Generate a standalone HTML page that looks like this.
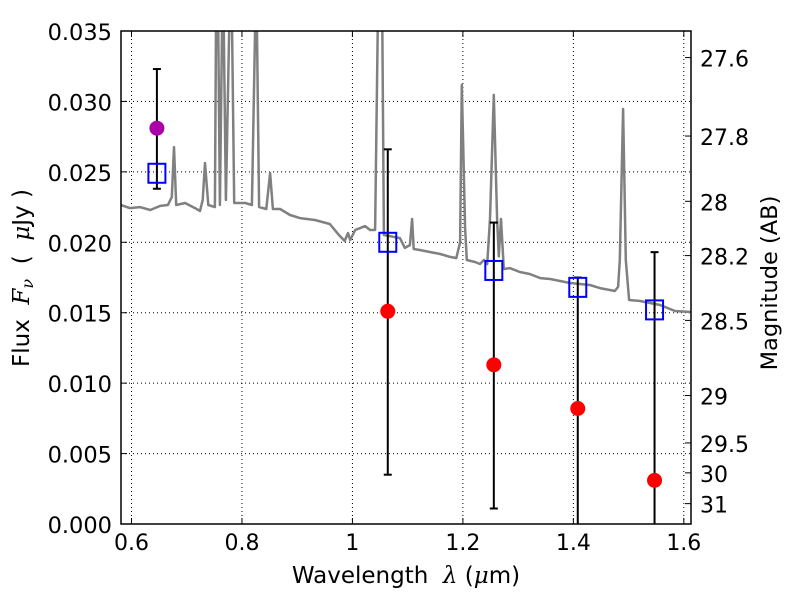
<!DOCTYPE html>
<html><head><meta charset="utf-8"><style>body{margin:0;background:#fff}svg{display:block;font-family:"DejaVu Sans","Liberation Sans",sans-serif}</style></head>
<body>
<svg id="c" width="800" height="600"></svg>
<script>
const specW=[0.581,0.597,0.615,0.634,0.652,0.666,0.673,0.677,0.681,0.697,0.715,0.724,0.729,0.733,0.739,0.751,0.753,0.757,0.760,0.764,0.767,0.771,0.777,0.782,0.786,0.806,0.818,0.824,0.827,0.831,0.844,0.851,0.856,0.869,0.887,0.905,0.932,0.959,0.977,0.986,0.992,0.996,1.005,1.023,1.032,1.041,1.046,1.054,1.057,1.077,1.086,1.095,1.104,1.108,1.111,1.122,1.140,1.159,1.177,1.188,1.195,1.198,1.204,1.207,1.222,1.231,1.238,1.244,1.249,1.256,1.262,1.265,1.269,1.274,1.285,1.303,1.321,1.340,1.358,1.376,1.394,1.412,1.430,1.448,1.466,1.475,1.481,1.484,1.490,1.495,1.501,1.521,1.539,1.557,1.584,1.613];
const specF=[0.02265,0.02243,0.02250,0.02229,0.02258,0.02265,0.02321,0.02676,0.02265,0.02279,0.02243,0.02222,0.02300,0.02563,0.02265,0.02250,0.0355,0.0355,0.02265,0.0355,0.0355,0.02300,0.0355,0.0355,0.02279,0.02279,0.02265,0.0355,0.0355,0.02250,0.02236,0.02492,0.02236,0.02236,0.02194,0.02172,0.02158,0.02130,0.02045,0.02009,0.02066,0.02016,0.02087,0.02115,0.02087,0.02087,0.0355,0.0355,0.02052,0.02037,0.02030,0.01960,0.01980,0.02165,0.01952,0.01945,0.01931,0.01917,0.01896,0.01888,0.02000,0.03117,0.02100,0.01874,0.01860,0.01846,0.01874,0.01846,0.02165,0.03046,0.02165,0.01900,0.02165,0.01810,0.01817,0.01789,0.01775,0.01746,0.01739,0.01725,0.01711,0.01704,0.01697,0.01675,0.01661,0.01654,0.01683,0.01874,0.02946,0.01874,0.01590,0.01583,0.01569,0.01555,0.01512,0.01505];
const ptW=[0.646,1.064,1.256,1.408,1.547];
const ptF=[0.0249,0.0200,0.0180,0.0168,0.0152];
const errHi=[0.0323,0.0266,0.0214,0.0175,0.0193];
const errLo=[0.0238,0.0035,0.0011,-0.002,-0.002];
const obsW=[0.646,1.064,1.256,1.408,1.547];
const obsF=[0.0281,0.0151,0.0113,0.0082,0.0031];
const obsColor=["#aa00aa","#ff0000","#ff0000","#ff0000","#ff0000"];
const xTicks=[0.6,0.8,1,1.2,1.4,1.6];
const xTickLabels=["0.6","0.8","1","1.2","1.4","1.6"];
const yTicks=[0,0.005,0.01,0.015,0.02,0.025,0.03,0.035];
const yTickLabels=["0.000","0.005","0.010","0.015","0.020","0.025","0.030","0.035"];
const magTicks=[27.6,27.8,28,28.2,28.5,29,29.5,30,31];
const magLabels=["27.6","27.8","28","28.2","28.5","29","29.5","30","31"];

const L=121,R=691,T=31,B=524, X0=0.581,X1=1.613, Y0=0,Y1=0.035;
const sx=w=>L+(w-X0)/(X1-X0)*(R-L);
const sy=f=>B-(f-Y0)/(Y1-Y0)*(B-T);
const NS="http://www.w3.org/2000/svg";
const svg=document.getElementById('c');
function mk(tag,attrs,parent){const e=document.createElementNS(NS,tag);for(const k in attrs)e.setAttribute(k,attrs[k]);(parent||svg).appendChild(e);return e;}
const defs=mk('defs',{});const cp=mk('clipPath',{id:'clip'},defs);mk('rect',{x:L,y:T,width:R-L,height:B-T},cp);
xTicks.forEach((t,i)=>{const x=sx(t);
 const g=mk('line',{x1:x,x2:x,y1:T,y2:B,stroke:'#000','stroke-width':1,'stroke-dasharray':'1,3'});
 
 mk('line',{x1:x,x2:x,y1:B,y2:B-6,stroke:'#000'});mk('line',{x1:x,x2:x,y1:T,y2:T+6,stroke:'#000'});
 const tx=mk('text',{x:x,y:B+26,'text-anchor':'middle','font-size':22});tx.textContent=xTickLabels[i];
 });
yTicks.forEach((t,i)=>{const y=sy(t);
 const g=mk('line',{x1:L,x2:R,y1:y,y2:y,stroke:'#000','stroke-width':1,'stroke-dasharray':'1,3'});
 
 mk('line',{x1:L,x2:L+6,y1:y,y2:y,stroke:'#000'});
 const tx=mk('text',{x:L-9,y:y+9,'text-anchor':'end','font-size':22.5});tx.textContent=yTickLabels[i];
 });
magTicks.forEach((m,i)=>{const f=Math.pow(10,(23.9-m)/2.5);const y=sy(f);
 mk('line',{x1:R,x2:R-6,y1:y,y2:y,stroke:'#000'});
 const tx=mk('text',{x:R+9,y:y+9,'font-size':22});tx.textContent=magLabels[i];
 });
const pts=specW.map((w,i)=>sx(w).toFixed(1)+','+sy(specF[i]).toFixed(1)).join(' ');
const sp=mk('polyline',{points:pts,fill:'none',stroke:'#808080','stroke-width':2.5,'stroke-linejoin':'round','clip-path':'url(#clip)'});

ptW.forEach((w,i)=>{const x=sx(w);
 const eb=mk('line',{x1:x,x2:x,y1:sy(errHi[i]),y2:sy(errLo[i]),stroke:'#000','stroke-width':2,'clip-path':'url(#clip)'});
 
 mk('line',{x1:x-4,x2:x+4,y1:sy(errHi[i]),y2:sy(errHi[i]),stroke:'#000','stroke-width':2});
 if(errLo[i]>0)mk('line',{x1:x-4,x2:x+4,y1:sy(errLo[i]),y2:sy(errLo[i]),stroke:'#000','stroke-width':2});
 const y=sy(ptF[i]);
 const r=mk('rect',{x:x-8.5,y:y-9.5,width:17,height:19,fill:'none',stroke:'#0000ff','stroke-width':2});
 });
obsW.forEach((w,i)=>{const c=mk('circle',{cx:sx(w),cy:sy(obsF[i]),r:7.5,fill:obsColor[i]});
 });
const fr=mk('rect',{x:L,y:T,width:R-L,height:B-T,fill:'none',stroke:'#000','stroke-width':1.5});

</script>
<svg style="position:absolute;left:0;top:0" width="800" height="600">
<text x="406" y="583" text-anchor="middle" font-size="23" font-family="DejaVu Sans, sans-serif">Wavelength&#160;&#160;<tspan font-style="italic" font-family="DejaVu Serif, serif">λ</tspan> (<tspan font-style="italic" font-family="DejaVu Serif, serif">μ</tspan>m)</text>
<text transform="translate(29,278) rotate(-90)" text-anchor="middle" font-size="23" font-family="DejaVu Sans, sans-serif">Flux&#160;&#160;<tspan font-style="italic" font-family="DejaVu Serif, serif">F</tspan><tspan font-style="italic" font-size="16" dy="4" font-family="DejaVu Serif, serif">ν</tspan><tspan dy="-4">&#160;&#160;(&#160;&#160;</tspan><tspan font-style="italic" font-family="DejaVu Serif, serif">μ</tspan>Jy )</text>
<text transform="translate(777,283) rotate(-90)" text-anchor="middle" font-size="22.5" font-family="DejaVu Sans, sans-serif">Magnitude (AB)</text>
</svg>
</body></html>
